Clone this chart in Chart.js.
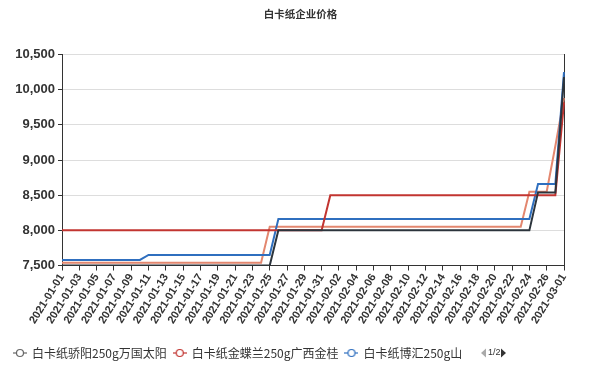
<!DOCTYPE html>
<html>
<head>
<meta charset="utf-8">
<script src="https://cdn.jsdelivr.net/npm/chart.js@4"></script>
<style>
  html, body { margin: 0; padding: 0; background: #fff; }
  #wrap { width: 594px; height: 369px; position: relative; }
</style>
</head>
<body>
<div id="wrap"><canvas id="priceChart"></canvas></div>
<script>
// Datas (eixo x)
const dates = [
  '2021-01-01','2021-01-02','2021-01-03','2021-01-04','2021-01-05','2021-01-06','2021-01-07','2021-01-08','2021-01-09','2021-01-10',
  '2021-01-11','2021-01-12','2021-01-13','2021-01-14','2021-01-15','2021-01-16','2021-01-17','2021-01-18','2021-01-19','2021-01-20',
  '2021-01-21','2021-01-22','2021-01-23','2021-01-24','2021-01-25','2021-01-26','2021-01-27','2021-01-28','2021-01-29','2021-01-30',
  '2021-01-31','2021-02-01','2021-02-02','2021-02-03','2021-02-04','2021-02-05','2021-02-06','2021-02-07','2021-02-08','2021-02-09',
  '2021-02-10','2021-02-11','2021-02-12','2021-02-13','2021-02-14','2021-02-15','2021-02-16','2021-02-17','2021-02-18','2021-02-19',
  '2021-02-20','2021-02-21','2021-02-22','2021-02-23','2021-02-24','2021-02-25','2021-02-26','2021-02-27','2021-03-01'
];

// Séries de preço
const wanguo = [
  7500,7500,7500,7500,7500,7500,7500,7500,7500,7500,
  7500,7500,7500,7500,7500,7500,7500,7500,7500,7500,
  7500,7500,7500,7500,7500,8000,8000,8000,8000,8000,
  8000,8000,8000,8000,8000,8000,8000,8000,8000,8000,
  8000,8000,8000,8000,8000,8000,8000,8000,8000,8000,
  8000,8000,8000,8000,8000,8540,8540,8540,10180
];
const guangxi = [
  8000,8000,8000,8000,8000,8000,8000,8000,8000,8000,
  8000,8000,8000,8000,8000,8000,8000,8000,8000,8000,
  8000,8000,8000,8000,8000,8000,8000,8000,8000,8000,
  8000,8500,8500,8500,8500,8500,8500,8500,8500,8500,
  8500,8500,8500,8500,8500,8500,8500,8500,8500,8500,
  8500,8500,8500,8500,8500,8500,8500,8500,9820
];
const bohui = [
  7580,7580,7580,7580,7580,7580,7580,7580,7580,7580,
  7650,7650,7650,7650,7650,7650,7650,7650,7650,7650,
  7650,7650,7650,7650,7650,8160,8160,8160,8160,8160,
  8160,8160,8160,8160,8160,8160,8160,8160,8160,8160,
  8160,8160,8160,8160,8160,8160,8160,8160,8160,8160,
  8160,8160,8160,8160,8160,8660,8660,8660,10250
];
const outro = [
  7540,7540,7540,7540,7540,7540,7540,7540,7540,7540,
  7540,7540,7540,7540,7540,7540,7540,7540,7540,7540,
  7540,7540,7540,7540,8050,8050,8050,8050,8050,8050,
  8050,8050,8050,8050,8050,8050,8050,8050,8050,8050,
  8050,8050,8050,8050,8050,8050,8050,8050,8050,8050,
  8050,8050,8050,8050,8550,8550,8550,9200,9880
];

const yTicks = { min: 7500, max: 10500, step: 500 };

const colors = {
  wanguo: '#2c343c',
  guangxi: '#c23531',
  bohui: '#2f6fbf',
  outro: '#e3876f',
  legendDark: '#666666'
};

// Ícone da legenda: linha com círculo vazado
function legendIcon(color) {
  const c = document.createElement('canvas');
  c.width = 14; c.height = 10;
  const g = c.getContext('2d');
  g.strokeStyle = color;
  g.lineWidth = 1.2;
  g.beginPath(); g.moveTo(0, 5); g.lineTo(14, 5); g.stroke();
  g.beginPath(); g.arc(7, 5, 3.5, 0, Math.PI * 2);
  g.fillStyle = '#fff'; g.fill(); g.stroke();
  return c;
}

// Paginação da legenda (1/2)
const legendPager = {
  id: 'legendPager',
  afterDraw(chart) {
    const ctx = chart.ctx;
    const y = 353;
    ctx.save();
    ctx.fillStyle = '#aaa';
    ctx.beginPath(); ctx.moveTo(481, y); ctx.lineTo(486, y - 4.5); ctx.lineTo(486, y + 4.5); ctx.closePath(); ctx.fill();
    ctx.fillStyle = '#333';
    ctx.font = '9px "Liberation Sans", Arial, sans-serif';
    ctx.textBaseline = 'middle';
    ctx.fillText('1/2', 488, y);
    ctx.beginPath(); ctx.moveTo(506, y); ctx.lineTo(501, y - 4.5); ctx.lineTo(501, y + 4.5); ctx.closePath(); ctx.fill();
    ctx.restore();
  }
};

function lineSet(label, data, color) {
  return {
    label: label,
    data: data,
    borderColor: color,
    backgroundColor: color,
    borderWidth: 2,
    pointRadius: 0,
    tension: 0,
    fill: false
  };
}

new Chart(document.getElementById('priceChart'), {
  type: 'line',
  data: {
    labels: dates,
    datasets: [
      lineSet('白卡纸骄阳250g万国太阳', wanguo, colors.wanguo),
      lineSet('白卡纸金蝶兰250g广西金桂', guangxi, colors.guangxi),
      lineSet('白卡纸博汇250g山东博汇', bohui, colors.bohui),
      lineSet('白卡纸250g其他', outro, colors.outro)
    ]
  },
  options: {
    responsive: true,
    maintainAspectRatio: false,
    animation: false,
    layout: { padding: { left: 7, right: 0, top: 0, bottom: 0 } },
    plugins: {
      title: {
        display: true,
        text: '白卡纸企业价格',
        color: '#333',
        font: { size: 10.5, weight: 'bold', family: '"Noto Sans CJK SC", sans-serif' },
        padding: { top: 8, bottom: 34 }
      },
      legend: {
        position: 'bottom',
        align: 'start',
        labels: {
          color: '#333',
          font: { size: 12, family: '"Noto Sans CJK SC", sans-serif' },
          usePointStyle: true,
          pointStyleWidth: 12,
          padding: 7,
          generateLabels: function(chart) {
            const icons = [colors.legendDark, colors.guangxi, colors.bohui];
            return chart.data.datasets.slice(0, 3).map(function(ds, i) {
              return {
                text: i === 2 ? ds.label.slice(0, 10) : ds.label,
                fontColor: '#333',
                pointStyle: legendIcon(icons[i]),
                datasetIndex: i,
                hidden: false,
                lineWidth: 0,
                strokeStyle: 'transparent',
                fillStyle: 'transparent'
              };
            });
          }
        }
      },
      tooltip: { enabled: false }
    },
    scales: {
      x: {
        offset: false,
        grid: {
          drawOnChartArea: false,
          tickLength: 5,
          tickColor: (ctx) => (ctx.index % 2 === 0 ? '#333' : 'rgba(0,0,0,0)')
        },
        border: { color: '#333', width: 1 },
        ticks: {
          autoSkip: false,
          minRotation: 58,
          maxRotation: 58,
          padding: 1,
          color: '#333',
          font: { size: 11, weight: 'bold', family: '"Liberation Sans", Arial, sans-serif' },
          callback: function(val, idx) {
            return idx % 2 === 0 ? this.getLabelForValue(val) : '';
          }
        },
        afterFit: (scale) => { scale.height = 74.5; }
      },
      y: {
        min: yTicks.min,
        max: yTicks.max,
        grid: { color: '#dddddd', tickColor: '#333', tickLength: 4 },
        border: { color: '#333', width: 1 },
        ticks: {
          stepSize: yTicks.step,
          padding: 3,
          color: '#333',
          font: { size: 13, weight: 'bold', family: '"Liberation Sans", Arial, sans-serif' }
        },
        afterFit: (scale) => { scale.width = 55; }
      },
      y2: {
        position: 'right',
        min: yTicks.min,
        max: yTicks.max,
        grid: { drawOnChartArea: false, drawTicks: false },
        border: { color: '#333', width: 1 },
        ticks: { display: false },
        afterFit: (scale) => { scale.width = 30; }
      }
    }
  },
  plugins: [legendPager]
});
</script>
</body>
</html>
